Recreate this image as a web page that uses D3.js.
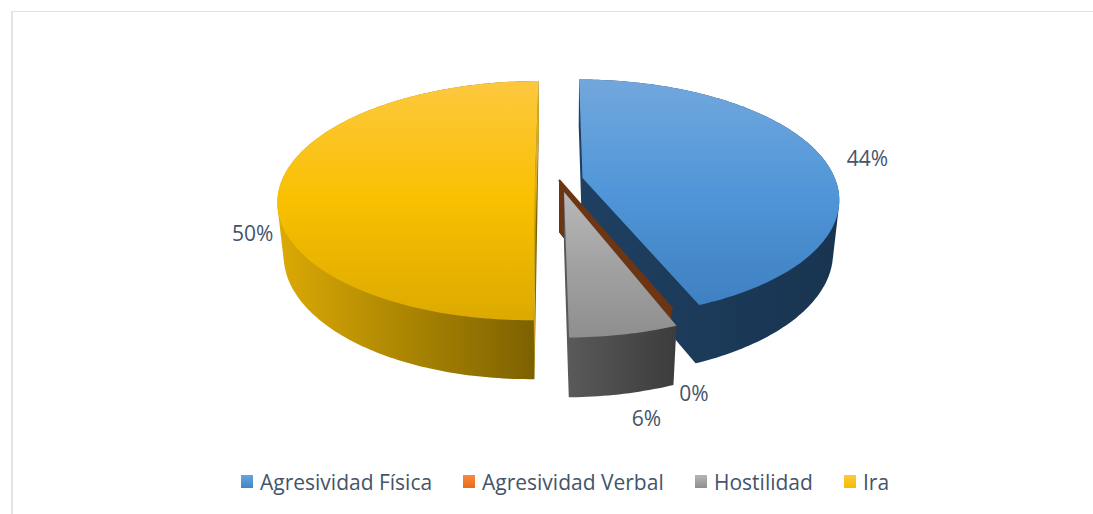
<!DOCTYPE html>
<html><head><meta charset="utf-8">
<script src="https://cdn.jsdelivr.net/npm/d3@7/dist/d3.min.js"></script>
<style>html,body{margin:0;padding:0;background:#fff;overflow:hidden}svg{display:block}text{font-family:"Open Sans",sans-serif;fill:#44546a}</style>
</head><body>
<svg id="c" width="1093" height="514"></svg>
<script>
const categories = ["Agresividad Física","Agresividad Verbal","Hostilidad","Ira"];
const shares = [43.9,0.2,5.7,50.2];
const labelText = ["44%","0%","6%","50%"];

// styling / layout
const explode = [0.095,0,0.103,0.095];
const topStops = [["#72a7dd","#5096d8","#3f80c2"],["#7a3c16","#6e3513","#6e3513"],["#b8b8b8","#a2a2a2","#8e8e8e"],["#fdc83f","#f9c000","#dcaa00"]];
const wallStops = [["#1f4062","#183450"],["#6e3513","#6e3513"],["#595959","#3c3c3c"],["#dcaa05","#7a6000"]];
const edgeFill = ["#1c3b5a","#6e3513","#4a4a4a","#d8ae2c"];
const legendStops = [["#6ca4dc","#3f86ca"],["#f58b45","#e96c18"],["#b5b5b5","#8f8f8f"],["#fdc83f","#f5bb00"]];
const labelNudge = [[46,1],[24,85],[22,84],[-29,52]];
const legendX = [241,463,695,844];
const xc=559,yc=180,Rx=253,Ry=116,k=0.172,dz=0.022,Hz=53.2,STEP=Math.PI/180;

const svg=d3.select("#c"), defs=svg.append("defs");
svg.append("line").attr("x1",12).attr("x2",1093).attr("y1",11.5).attr("y2",11.5).attr("stroke","#e3e3e3").attr("stroke-width",1);
svg.append("line").attr("x1",12).attr("x2",12).attr("y1",11).attr("y2",514).attr("stroke","#e0e4e7").attr("stroke-width",2);

const slices=d3.pie().sort(null).value(d=>d)(shares);
const project=(U,V,low)=>{const D=1-k*V+(low?dz:0);return [xc+Rx*U/D, yc+(Ry*V+(low?Hz:0))/D];};
const line=d3.line();
function grad(id,stops,x1,y1,x2,y2){
  const g=defs.append("linearGradient").attr("id",id).attr("gradientUnits","userSpaceOnUse")
    .attr("x1",x1).attr("y1",y1).attr("x2",x2).attr("y2",y2);
  stops.forEach((c,i)=>g.append("stop").attr("offset",i/(stops.length-1)).attr("stop-color",c));
  return `url(#${id})`;
}
const geo=slices.map((s,i)=>{
  const mid=(s.startAngle+s.endAngle)/2, e=explode[i];
  const ox=e*Math.sin(mid), oy=-e*Math.cos(mid);
  const pt=(a,low)=>project(ox+Math.sin(a),oy-Math.cos(a),low);
  const apex=low=>project(ox,oy,low);
  const as=d3.range(s.startAngle,s.endAngle,STEP).concat([s.endAngle]);
  return {i,s,mid,ox,oy,pt,apex,as};
});
function drawSlice(g){
  const {i,s,pt,apex,as}=g;
  const rim=as.map(a=>pt(a,false)), rimLow=as.map(a=>pt(a,true));
  const xs=rim.map(p=>p[0]),ys=rim.map(p=>p[1]).concat(apex(false)[1]);
  const wall=grad("w"+i,wallStops[i],d3.min(xs),0,d3.max(xs),0);
  const top=grad("t"+i,topStops[i],0,d3.min(ys),0,d3.max(ys));
  const hull=d3.polygonHull(rim.concat(rimLow,[apex(false),apex(true)]));
  svg.append("path").attr("d",line(hull)+"Z").attr("fill",wall);
  const quad=a=>line([apex(false),pt(a,false),pt(a,true),apex(true)])+"Z";
  [s.startAngle,s.endAngle].forEach(a=>{
    if(i===3||i===1) svg.append("path").attr("d",quad(a)).attr("fill",edgeFill[i]);
  });
  const p=svg.append("path").attr("d",line([apex(false)].concat(rim))+"Z").attr("fill",top);
  if(i===1) p.attr("stroke","#6e3513").attr("stroke-width",2.2).attr("stroke-linejoin","miter");
}
// painter's order: far slices first, the grey wedge last
[3,0,1,2].forEach(i=>drawSlice(geo[i]));

svg.append("g").selectAll("text").data(geo).join("text")
  .attr("x",g=>g.pt(g.mid,false)[0]+labelNudge[g.i][0])
  .attr("y",g=>g.pt(g.mid,false)[1]+labelNudge[g.i][1])
  .attr("text-anchor","middle").attr("dominant-baseline","central")
  .attr("font-size",21).text(g=>labelText[g.i]);

const leg=svg.append("g").selectAll("g").data(categories).join("g")
  .attr("transform",(d,i)=>`translate(${legendX[i]},0)`);
leg.append("rect").attr("x",0).attr("y",475).attr("width",12).attr("height",13)
  .attr("fill",(d,i)=>grad("l"+i,legendStops[i],0,475,0,488));
leg.append("text").attr("x",19).attr("y",482).attr("dominant-baseline","central")
  .attr("font-size",21).text(d=>d);
</script>
</body></html>
